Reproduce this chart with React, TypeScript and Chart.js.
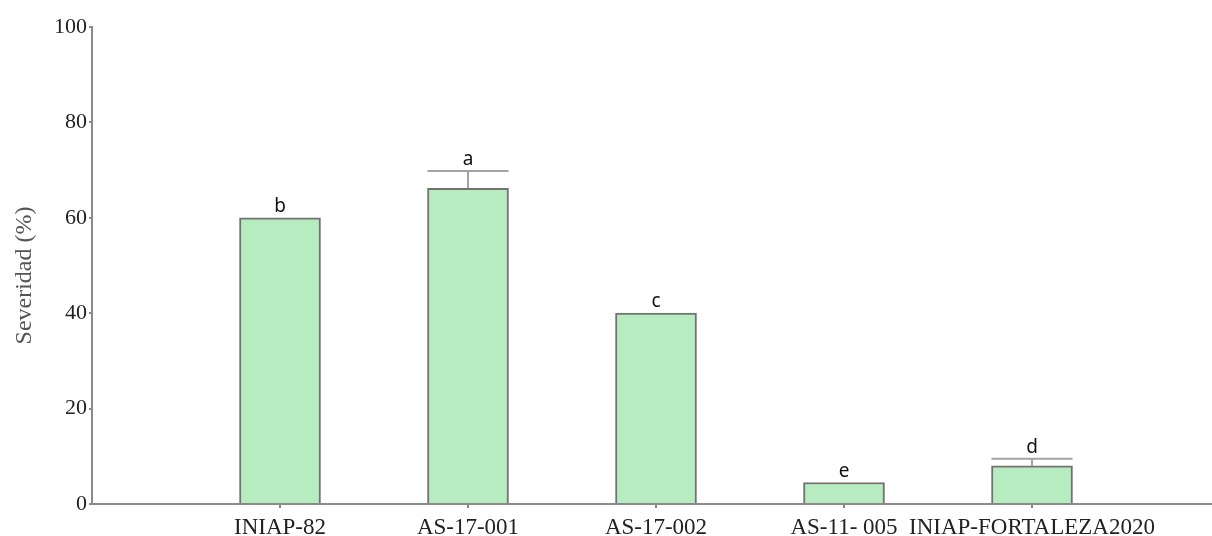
import React, { useEffect, useRef } from "react";
import { Chart, registerables } from "chart.js";

Chart.register(...registerables);

const categories = ["INIAP-82", "AS-17-001", "AS-17-002", "AS-11- 005", "INIAP-FORTALEZA2020"];
const severity = [60, 66.2, 40, 4.5, 8.0];
const errorUp = [0, 3.6, 0, 0, 1.5];
const letters = ["b", "a", "c", "e", "d"];
const yTicks = [0, 20, 40, 60, 80, 100];
const yTitle = "Severidad (%)";

const BAR_W = 81;

const errorPlugin = {
  id: "errLetters",
  afterDatasetsDraw(chart: any) {
    const { ctx, scales } = chart;
    const xs = scales.x;
    const ys = scales.y;
    ctx.save();
    categories.forEach((_, i) => {
      const cx = xs.getPixelForValue(i + 1);
      const barTop = ys.getPixelForValue(severity[i]);
      let top = barTop;
      if (errorUp[i] > 0) {
        top = ys.getPixelForValue(severity[i] + errorUp[i]);
        ctx.strokeStyle = "#a3a3a3";
        ctx.lineWidth = 2;
        ctx.beginPath();
        ctx.moveTo(cx, barTop);
        ctx.lineTo(cx, top);
        ctx.moveTo(cx - BAR_W / 2, top);
        ctx.lineTo(cx + BAR_W / 2, top);
        ctx.stroke();
      }
      ctx.fillStyle = "#111";
      ctx.font = "19px 'Noto Sans'";
      ctx.textAlign = "center";
      ctx.textBaseline = "alphabetic";
      ctx.fillText(letters[i], cx, top - 6);
    });
    // y-axis title
    const midY = (ys.top + ys.bottom) / 2 + 10;
    ctx.translate(25, midY);
    ctx.rotate(-Math.PI / 2);
    ctx.fillStyle = "#555";
    ctx.font = "24px 'Liberation Serif'";
    ctx.textAlign = "center";
    ctx.textBaseline = "middle";
    ctx.fillText(yTitle, 0, 0);
    ctx.restore();
  },
};

export default function App() {
  const ref = useRef<HTMLCanvasElement | null>(null);
  useEffect(() => {
    if (!ref.current) return;
    const chart = new Chart(ref.current, {
      type: "bar",
      data: {
        datasets: [
          {
            data: categories.map((_, i) => ({ x: i + 1, y: severity[i] })),
            backgroundColor: "#b7ecc0",
            borderColor: "#727272",
            borderWidth: 2,
            borderSkipped: "bottom",
            barThickness: BAR_W,
          },
        ],
      },
      options: {
        animation: false,
        responsive: false,
        maintainAspectRatio: false,
        layout: { padding: { top: 27, right: 0, left: 0, bottom: 0 } },
        plugins: { legend: { display: false }, tooltip: { enabled: false } },
        scales: {
          x: {
            type: "linear",
            offset: false,
            min: 0,
            max: 1120 / 188,
            afterBuildTicks: (axis: any) => {
              axis.ticks = categories.map((_, i) => ({ value: i + 1 }));
            },
            afterFit: (axis: any) => {
              axis.height = 32;
            },
            grid: { offset: false, drawOnChartArea: false, tickLength: 4, color: "#8a8a8a", lineWidth: 2 },
            border: { color: "#8a8a8a", width: 2 },
            ticks: {
              autoSkip: false,
              maxRotation: 0,
              padding: 6,
              color: "#222",
              font: { family: "'Liberation Serif'", size: 23 },
              callback: (v: any) => categories[Number(v) - 1] ?? "",
            },
          },
          y: {
            min: 0,
            max: 100,
            afterBuildTicks: (axis: any) => {
              axis.ticks = yTicks.map((v) => ({ value: v }));
            },
            afterFit: (axis: any) => {
              axis.width = 92;
            },
            grid: { drawOnChartArea: false, tickLength: 3, color: "#8a8a8a", lineWidth: 2 },
            border: { color: "#8a8a8a", width: 2 },
            ticks: {
              padding: 2,
              color: "#222",
              font: { family: "'Liberation Serif'", size: 22 },
            },
          },
        },
      },
      plugins: [errorPlugin],
    } as any);
    return () => chart.destroy();
  }, []);
  return (
    <div style={{ position: "absolute", left: 0, top: 0, width: 1212, height: 536, background: "#fff" }}>
      <canvas ref={ref} width={1212} height={536} style={{ display: "block", width: 1212, height: 536 }} />
    </div>
  );
}
